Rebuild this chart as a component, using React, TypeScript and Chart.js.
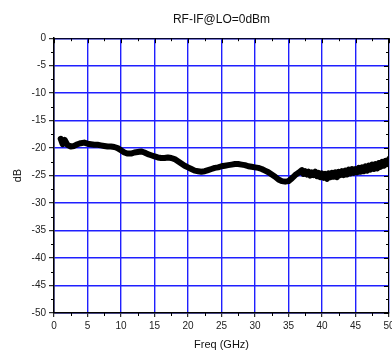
import React, { useEffect, useRef } from 'react';
import { Chart, registerables } from 'chart.js';

Chart.register(...registerables);

const chartTitle = 'RF-IF@LO=0dBm';
const xAxisTitle = 'Freq (GHz)';
const yAxisTitle = 'dB';

const freqGHz = [
  1.0, 1.3, 1.6, 2.0, 2.5, 3.0, 3.5, 4.0, 4.5, 5.0, 5.5, 6.0, 6.5, 7.0, 7.5, 8.0, 8.5, 9.0, 9.5,
  10.0, 10.5, 11.0, 11.5, 12.0, 12.5, 13.0, 13.5, 14.0, 14.5, 15.0, 15.5, 16.0, 16.5, 17.0, 17.5,
  18.0, 18.5, 19.0, 19.5, 20.0, 20.5, 21.0, 21.5, 22.0, 22.5, 23.0, 23.5, 24.0, 24.5, 25.0, 25.5,
  26.0, 26.5, 27.0, 27.5, 28.0, 28.5, 29.0, 29.5, 30.0, 30.5, 31.0, 31.5, 32.0, 32.5, 33.0, 33.5,
  34.0, 34.5, 35.0, 35.5, 36.0, 36.5,
  37.0, 37.25, 37.5, 37.75, 38.0, 38.25, 38.5, 38.75, 39.0, 39.25, 39.5, 39.75,
  40.0, 40.25, 40.5, 40.75, 41.0, 41.25, 41.5, 41.75, 42.0, 42.25, 42.5, 42.75,
  43.0, 43.25, 43.5, 43.75, 44.0, 44.25, 44.5, 44.75, 45.0, 45.25, 45.5, 45.75,
  46.0, 46.25, 46.5, 46.75, 47.0, 47.25, 47.5, 47.75, 48.0, 48.25, 48.5, 48.75,
  49.0, 49.25, 49.5, 49.75, 50.0,
];

const rfIfDb = [
  -18.3, -19.3, -18.5, -19.4, -19.7, -19.6, -19.3, -19.1, -19.0, -19.2, -19.3, -19.4, -19.4, -19.5, -19.6, -19.7, -19.7, -19.8, -20.0,
  -20.4, -20.8, -21.0, -21.0, -20.8, -20.7, -20.6, -20.8, -21.1, -21.3, -21.5, -21.7, -21.8, -21.8, -21.7, -21.8,
  -22.0, -22.4, -22.8, -23.2, -23.5, -23.8, -24.1, -24.2, -24.3, -24.2, -24.0, -23.8, -23.6, -23.5, -23.3, -23.2,
  -23.1, -23.0, -22.9, -22.9, -23.0, -23.1, -23.3, -23.4, -23.5, -23.6, -23.8, -24.1, -24.4, -24.8, -25.2, -25.7,
  -26.0, -26.1, -26.0, -25.5, -24.9, -24.5,
  -24.0, -24.7, -24.2, -24.8, -24.3, -25.0, -24.4, -24.9, -24.3, -25.1, -24.5, -25.3,
  -24.6, -25.4, -24.7, -25.6, -24.6, -25.3, -24.5, -25.2, -24.4, -25.3, -24.3, -24.9,
  -24.2, -24.9, -24.1, -24.8, -23.9, -24.6, -23.8, -24.5, -23.8, -24.4, -23.6, -24.3,
  -23.5, -24.2, -23.3, -24.1, -23.2, -23.9, -23.0, -23.8, -22.9, -23.7, -22.7, -23.4,
  -22.5, -23.2, -22.3, -22.9, -22.0,
];

const xMin = 0;
const xMax = 50;
const xStep = 5;
const yMin = -50;
const yMax = 0;
const yStep = 5;

const FONT = '"Liberation Sans", Arial, Helvetica, sans-serif';

const framePlugin = {
  id: 'frame',
  afterDraw(chart: any) {
    const { ctx, chartArea } = chart;
    const { left, right, top, bottom } = chartArea;
    const xs = chart.scales.x;
    const ys = chart.scales.y;
    ctx.save();
    ctx.strokeStyle = '#000';
    ctx.lineWidth = 1;
    ctx.beginPath();
    ctx.moveTo(left, top + 0.5);
    ctx.lineTo(right, top + 0.5);
    ctx.moveTo(right - 0.5, top);
    ctx.lineTo(right - 0.5, bottom);
    ctx.stroke();
    ctx.beginPath();
    for (let v = xMin; v <= xMax + 1e-9; v += xStep / 2) {
      const px = Math.round(xs.getPixelForValue(v)) + 0.5;
      const major = Math.abs(v / xStep - Math.round(v / xStep)) < 1e-6;
      const len = major ? 5 : 3;
      ctx.moveTo(px, top);
      ctx.lineTo(px, top + len);
      if (!major) {
        ctx.moveTo(px, bottom);
        ctx.lineTo(px, bottom + 3);
      }
    }
    for (let v = yMin; v <= yMax + 1e-9; v += yStep / 2) {
      const py = Math.round(ys.getPixelForValue(v)) + 0.5;
      const major = Math.abs(v / yStep - Math.round(v / yStep)) < 1e-6;
      const len = major ? 5 : 3;
      ctx.moveTo(right, py);
      ctx.lineTo(right - len, py);
      if (!major) {
        ctx.moveTo(left, py);
        ctx.lineTo(left - 3, py);
      }
    }
    ctx.stroke();
    ctx.restore();
  },
};

export default function App() {
  const ref = useRef<HTMLCanvasElement | null>(null);

  useEffect(() => {
    document.body.style.margin = '0';
    const canvas = ref.current;
    if (!canvas) return;
    const points = freqGHz.map((f, i) => ({ x: f, y: rfIfDb[i] }));
    const chart = new Chart(canvas, {
      type: 'line',
      data: {
        datasets: [
          {
            label: chartTitle,
            data: points,
            borderColor: '#000',
            backgroundColor: '#000',
            borderWidth: 6,
            pointRadius: 0,
            tension: 0,
            borderJoinStyle: 'round',
            borderCapStyle: 'round',
          },
        ],
      },
      options: {
        animation: false,
        responsive: false,
        devicePixelRatio: 1,
        layout: { padding: { left: 0, right: 3, top: 0, bottom: 0 } },
        plugins: {
          legend: { display: false },
          tooltip: { enabled: false },
          title: {
            display: true,
            text: chartTitle,
            fullSize: false,
            color: '#111',
            font: { family: FONT, size: 12, weight: 'normal' },
            padding: { top: 12, bottom: 11.8 },
          },
        },
        scales: {
          x: {
            type: 'linear',
            min: xMin,
            max: xMax,
            afterFit(scale: any) {
              scale.height = 40;
              scale.paddingLeft = 0;
              scale.paddingRight = 0;
            },
            ticks: {
              stepSize: xStep,
              autoSkip: false,
              maxRotation: 0,
              padding: 3,
              color: '#222',
              font: { family: FONT, size: 10 },
            },
            grid: {
              color: '#2020ff',
              lineWidth: 1.4,
              drawTicks: true,
              tickLength: 4,
              tickColor: '#000',
              tickWidth: 1,
            },
            border: { display: true, color: '#000', width: 1.5 },
            title: {
              display: true,
              text: xAxisTitle,
              color: '#111',
              font: { family: FONT, size: 11 },
              padding: { top: 0, bottom: 1.5 },
            },
          },
          y: {
            type: 'linear',
            min: yMin,
            max: yMax,
            afterFit(scale: any) {
              scale.width = 54;
              scale.paddingTop = 0;
              scale.paddingBottom = 0;
            },
            ticks: {
              stepSize: yStep,
              autoSkip: false,
              padding: 3,
              color: '#222',
              font: { family: FONT, size: 10 },
            },
            grid: {
              color: '#2020ff',
              lineWidth: 1.4,
              drawTicks: true,
              tickLength: 5,
              tickColor: '#000',
              tickWidth: 1,
            },
            border: { display: true, color: '#000', width: 1.5 },
            title: {
              display: true,
              text: yAxisTitle,
              color: '#111',
              font: { family: FONT, size: 11 },
              padding: { top: 11, bottom: 0 },
            },
          },
        },
      },
      plugins: [framePlugin],
    });
    return () => chart.destroy();
  }, []);

  return (
    <div style={{ width: 392, height: 353, position: 'relative', background: '#fff' }}>
      <canvas ref={ref} width={392} height={353} style={{ display: 'block' }} />
    </div>
  );
}
